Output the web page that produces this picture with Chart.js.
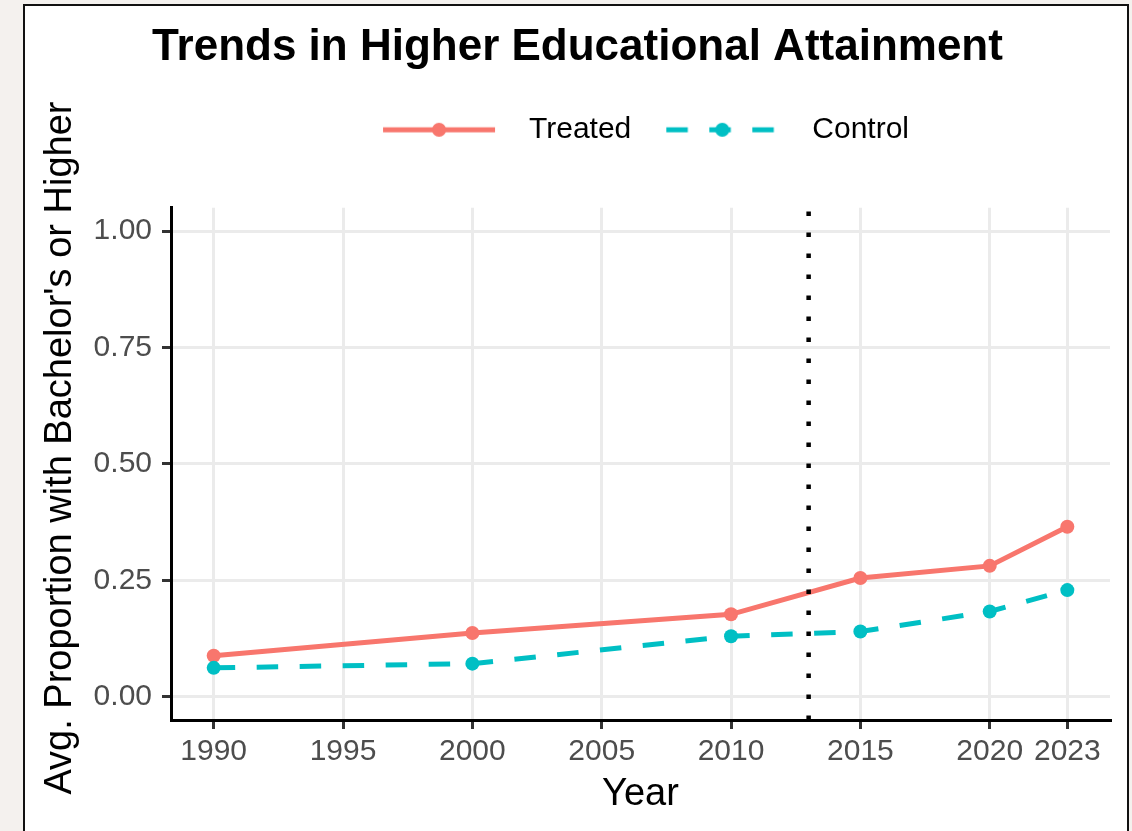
<!DOCTYPE html>
<html>
<head>
<meta charset="utf-8">
<script src="https://cdn.jsdelivr.net/npm/chart.js@4.4.1/dist/chart.umd.min.js"></script>
<style>
  html, body { margin: 0; padding: 0; background: #f4f1ee; overflow: hidden; }
  #frame { position: absolute; left: 23px; top: 4px; width: 1102px; height: 900px;
           border: 2px solid #111; background: #fff; }
  #chart { position: absolute; left: 0; top: 0; }
</style>
</head>
<body>
<div id="frame"></div>
<canvas id="chart" width="1132" height="831"></canvas>
<script>
// data
var years = [1990, 2000, 2010, 2015, 2020, 2023];
var treated = [0.088, 0.137, 0.177, 0.255, 0.281, 0.365];
var control = [0.062, 0.071, 0.130, 0.140, 0.183, 0.229];
var xTicks = [1990, 1995, 2000, 2005, 2010, 2015, 2020, 2023];
var yTicks = [0, 0.25, 0.5, 0.75, 1];
var cutoffYear = 2013;

var RED = '#F8766D';
var CYAN = '#00BFC4';
var FONT = '"Liberation Sans", Arial, Helvetica, sans-serif';

Chart.defaults.font.family = FONT;

function pts(vals) {
  return years.map(function (y, i) { return { x: y, y: vals[i] }; });
}

// little line + dot picture for the legend keys
function legendKey(color, dash) {
  var c = document.createElement('canvas');
  c.width = 142; c.height = 16;
  var g = c.getContext('2d');
  g.strokeStyle = color;
  g.lineWidth = 5;
  g.setLineDash(dash);
  g.beginPath(); g.moveTo(11, 8); g.lineTo(123, 8); g.stroke();
  g.setLineDash([]);
  g.fillStyle = color;
  g.beginPath(); g.arc(67, 8, 7, 0, Math.PI * 2); g.fill();
  return c;
}

var cutoffLine = {
  id: 'cutoffLine',
  afterDatasetsDraw: function (chart) {
    var ctx = chart.ctx, area = chart.chartArea;
    var px = chart.scales.x.getPixelForValue(cutoffYear);
    ctx.save();
    ctx.strokeStyle = '#000';
    ctx.lineWidth = 4.5;
    ctx.setLineDash([4.5, 16.5]);
    ctx.beginPath();
    ctx.moveTo(px, area.bottom);
    ctx.lineTo(px, area.top);
    ctx.stroke();
    ctx.restore();
  }
};

var ctx = document.getElementById('chart');
var chart = new Chart(ctx, {
  type: 'line',
  data: {
    datasets: [{
      label: 'Treated',
      data: pts(treated),
      borderColor: RED,
      backgroundColor: RED,
      borderWidth: 5,
      pointRadius: 7,
      pointBorderWidth: 0,
      pointBackgroundColor: RED,
      order: 1
    }, {
      label: 'Control',
      data: pts(control),
      borderColor: CYAN,
      backgroundColor: CYAN,
      borderWidth: 5,
      borderDash: [21.5, 21.5],
      pointRadius: 7,
      pointBorderWidth: 0,
      pointBackgroundColor: CYAN,
      order: 0
    }]
  },
  options: {
    responsive: false,
    animation: false,
    layout: { padding: { left: 28, right: 5, top: 0, bottom: 0 } },
    plugins: {
      tooltip: { enabled: false },
      title: {
        display: true,
        text: 'Trends in Higher Educational Attainment',
        color: '#000',
        font: { size: 44, weight: 'bold', lineHeight: 1.2 },
        padding: { top: 21, bottom: 17 }
      },
      legend: {
        display: true,
        position: 'top',
        fullSize: false,
        labels: {
          color: '#000',
          font: { size: 30 },
          usePointStyle: true,
          pointStyleWidth: 142,
          padding: 24,
          generateLabels: function () {
            return [
              { text: 'Treated', pointStyle: legendKey(RED, []), fillStyle: RED, strokeStyle: RED, lineWidth: 0, hidden: false, datasetIndex: 0 },
              { text: 'Control', pointStyle: legendKey(CYAN, [21.5, 21.5]), fillStyle: CYAN, strokeStyle: CYAN, lineWidth: 0, hidden: false, datasetIndex: 1 }
            ];
          }
        }
      }
    },
    scales: {
      x: {
        type: 'linear',
        position: 'bottom',
        min: 1988.35,
        max: 2024.65,
        afterBuildTicks: function (s) { s.ticks = xTicks.map(function (v) { return { value: v }; }); },
        afterFit: function (s) { s.height = 111; },
        grid: { color: '#EBEBEB', lineWidth: 3, tickLength: 9, tickColor: '#333', tickWidth: 3 },
        border: { display: true, color: '#000', width: 3 },
        ticks: {
          color: '#4D4D4D', font: { size: 30 }, padding: 5, maxRotation: 0, autoSkip: false,
          callback: function (v) { return String(v); }
        },
        title: { display: true, text: 'Year', color: '#000', font: { size: 38, lineHeight: 1.2 }, padding: { top: 0, bottom: 14 } }
      },
      y: {
        type: 'linear',
        position: 'left',
        min: -0.05,
        max: 1.05,
        afterBuildTicks: function (s) { s.ticks = yTicks.map(function (v) { return { value: v }; }); },
        afterFit: function (s) { s.width = 143; },
        grid: { color: '#EBEBEB', lineWidth: 3, tickLength: 9, tickColor: '#333', tickWidth: 3 },
        border: { display: true, color: '#000', width: 3 },
        ticks: {
          color: '#4D4D4D', font: { size: 30 }, padding: 10,
          callback: function (v) { return Number(v).toFixed(2); }
        },
        title: { display: true, text: "   Avg. Proportion with Bachelor's or Higher", color: '#000', font: { size: 38, lineHeight: 1.2 }, padding: { top: 10, bottom: 0 } }
      },
      xTop: {
        type: 'linear', position: 'top', display: true,
        grid: { display: false }, border: { display: false }, ticks: { display: false },
        afterFit: function (s) { s.height = 53; }
      },
      yRight: {
        type: 'linear', position: 'right', display: true,
        grid: { display: false }, border: { display: false }, ticks: { display: false },
        afterFit: function (s) { s.width = 17; }
      }
    }
  },
  plugins: [cutoffLine]
});
</script>
</body>
</html>
